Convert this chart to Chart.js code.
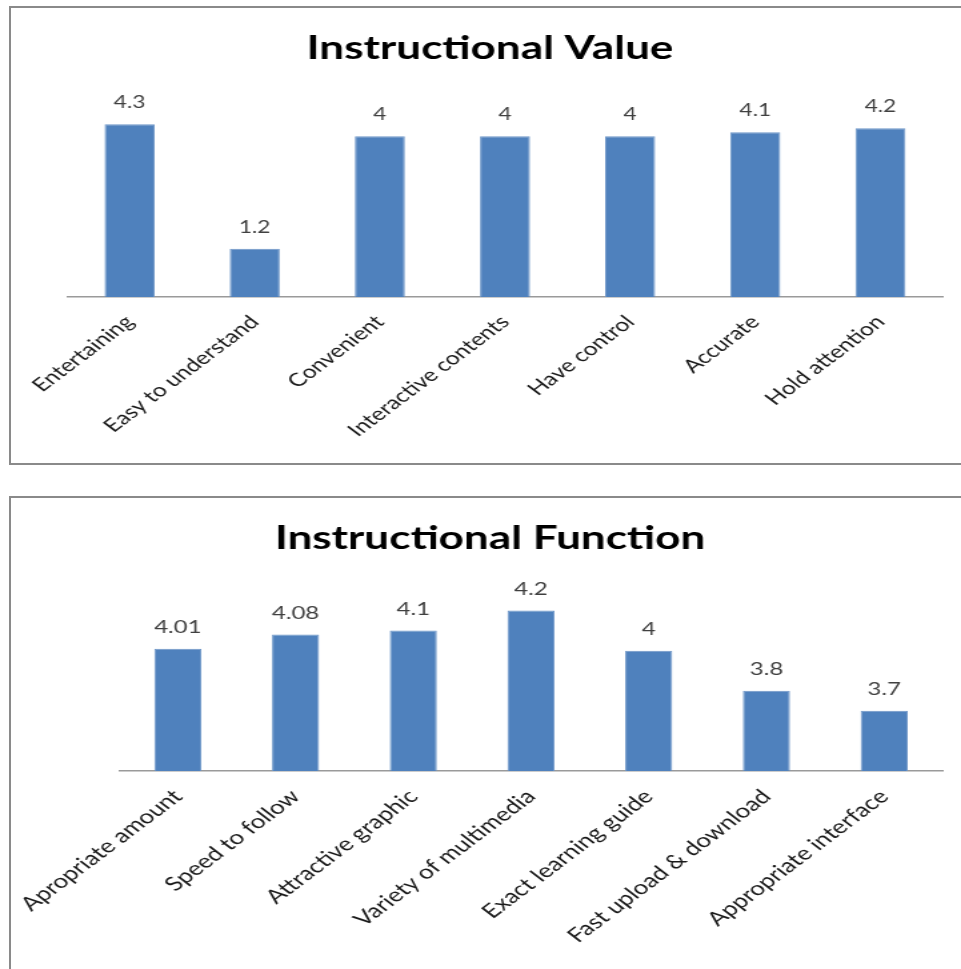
<!DOCTYPE html>
<html>
<head>
<meta charset="utf-8">
<script src="https://cdn.jsdelivr.net/npm/chart.js@4.4.1/dist/chart.umd.min.js"></script>
<style>
  body { margin: 0; background: #fff; width: 961px; height: 969px; overflow: hidden; position: relative; }
  .box { position: absolute; border: 2px solid #8a8a8a; }
  #box1 { left: 9px; top: 6px; width: 980px; height: 455px; }
  #box2 { left: 9px; top: 496px; width: 980px; height: 500px; }
  canvas { position: absolute; left: 0; }
  #valueChart { top: 0; }
  #functionChart { top: 490px; }
</style>
</head>
<body>
<div class="box" id="box1"></div>
<div class="box" id="box2"></div>
<!-- 元の図は横に引き伸ばされているので、狭いキャンバスに描いてCSSで横に伸ばす -->
<canvas id="valueChart" width="721" height="465" style="width:961px;height:465px"></canvas>
<canvas id="functionChart" width="721" height="479" style="width:961px;height:479px"></canvas>
<script>
// Instructional Value
const valueLabels = ['Entertaining', 'Easy to understand', 'Convenient', 'Interactive contents', 'Have control', 'Accurate', 'Hold attention'];
const valueScores = [4.3, 1.2, 4, 4, 4, 4.1, 4.2];

// Instructional Function
const functionLabels = ['Apropriate amount', 'Speed to follow', 'Attractive graphic', 'Variety of multimedia', 'Exact learning guide', 'Fast upload & download', 'Appropriate interface'];
const functionScores = [4.01, 4.08, 4.1, 4.2, 4, 3.8, 3.7];

const FONT = 'Lato';
const S = 961 / 721; // 横の伸び率

// 棒の上に値を書く
const barValues = {
    id: 'barValues',
    afterDatasetsDraw(chart, args, opts) {
        const ctx = chart.ctx;
        const meta = chart.getDatasetMeta(0);
        ctx.save();
        ctx.font = opts.size + 'px ' + FONT;
        ctx.fillStyle = '#404040';
        ctx.textAlign = 'center';
        ctx.textBaseline = 'alphabetic';
        meta.data.forEach((bar, i) => {
            ctx.fillText(String(chart.data.datasets[0].data[i]), bar.x, bar.y - 16);
        });
        ctx.restore();
    }
};

// タイトル（枠の中央に置く）
const boxTitle = {
    id: 'boxTitle',
    afterDraw(chart, args, opts) {
        const ctx = chart.ctx;
        ctx.save();
        ctx.font = 'bold 33px ' + FONT;
        ctx.fillStyle = '#000';
        ctx.textAlign = 'center';
        ctx.textBaseline = 'middle';
        ctx.fillText(opts.text, 490 / S, 48);
        ctx.restore();
    }
};

function makeChart(id, labels, scores, opts) {
    return new Chart(document.getElementById(id), {
        type: 'bar',
        data: {
            labels: labels,
            datasets: [{
                data: scores,
                backgroundColor: '#4f81bd',
                borderColor: '#6f97c8',
                borderWidth: 1,
                barPercentage: 0.4,
                categoryPercentage: 1
            }]
        },
        options: {
            responsive: false,
            animation: false,
            layout: {
                padding: { left: opts.left / S, right: 18 / S, top: opts.top, bottom: 0 }
            },
            scales: {
                x: {
                    grid: { display: false },
                    border: { display: true, color: '#9a9a9a', width: 1.5 },
                    ticks: {
                        autoSkip: false,
                        minRotation: 45,
                        maxRotation: 45,
                        padding: 6,
                        color: '#1a1a1a',
                        font: { family: FONT, size: opts.tickSize }
                    },
                    afterFit: (scale) => {
                        scale.height = opts.axisHeight;
                        scale.paddingLeft = 0;
                        scale.paddingRight = 0;
                    }
                },
                y: {
                    display: false,
                    min: opts.min,
                    max: opts.max
                }
            },
            plugins: {
                legend: { display: false },
                tooltip: { enabled: false },
                title: { display: false },
                boxTitle: { text: opts.title },
                barValues: { size: opts.valueSize }
            }
        },
        plugins: [barValues, boxTitle]
    });
}

makeChart('valueChart', valueLabels, valueScores, {
    title: 'Instructional Value', left: 67, top: 96, axisHeight: 168, min: 0, max: 5,
    tickSize: 18.5, valueSize: 17
});
makeChart('functionChart', functionLabels, functionScores, {
    title: 'Instructional Function', left: 119, top: 80.4, axisHeight: 198, min: 3.4, max: 4.4,
    tickSize: 19.5, valueSize: 18
});
</script>
</body>
</html>
